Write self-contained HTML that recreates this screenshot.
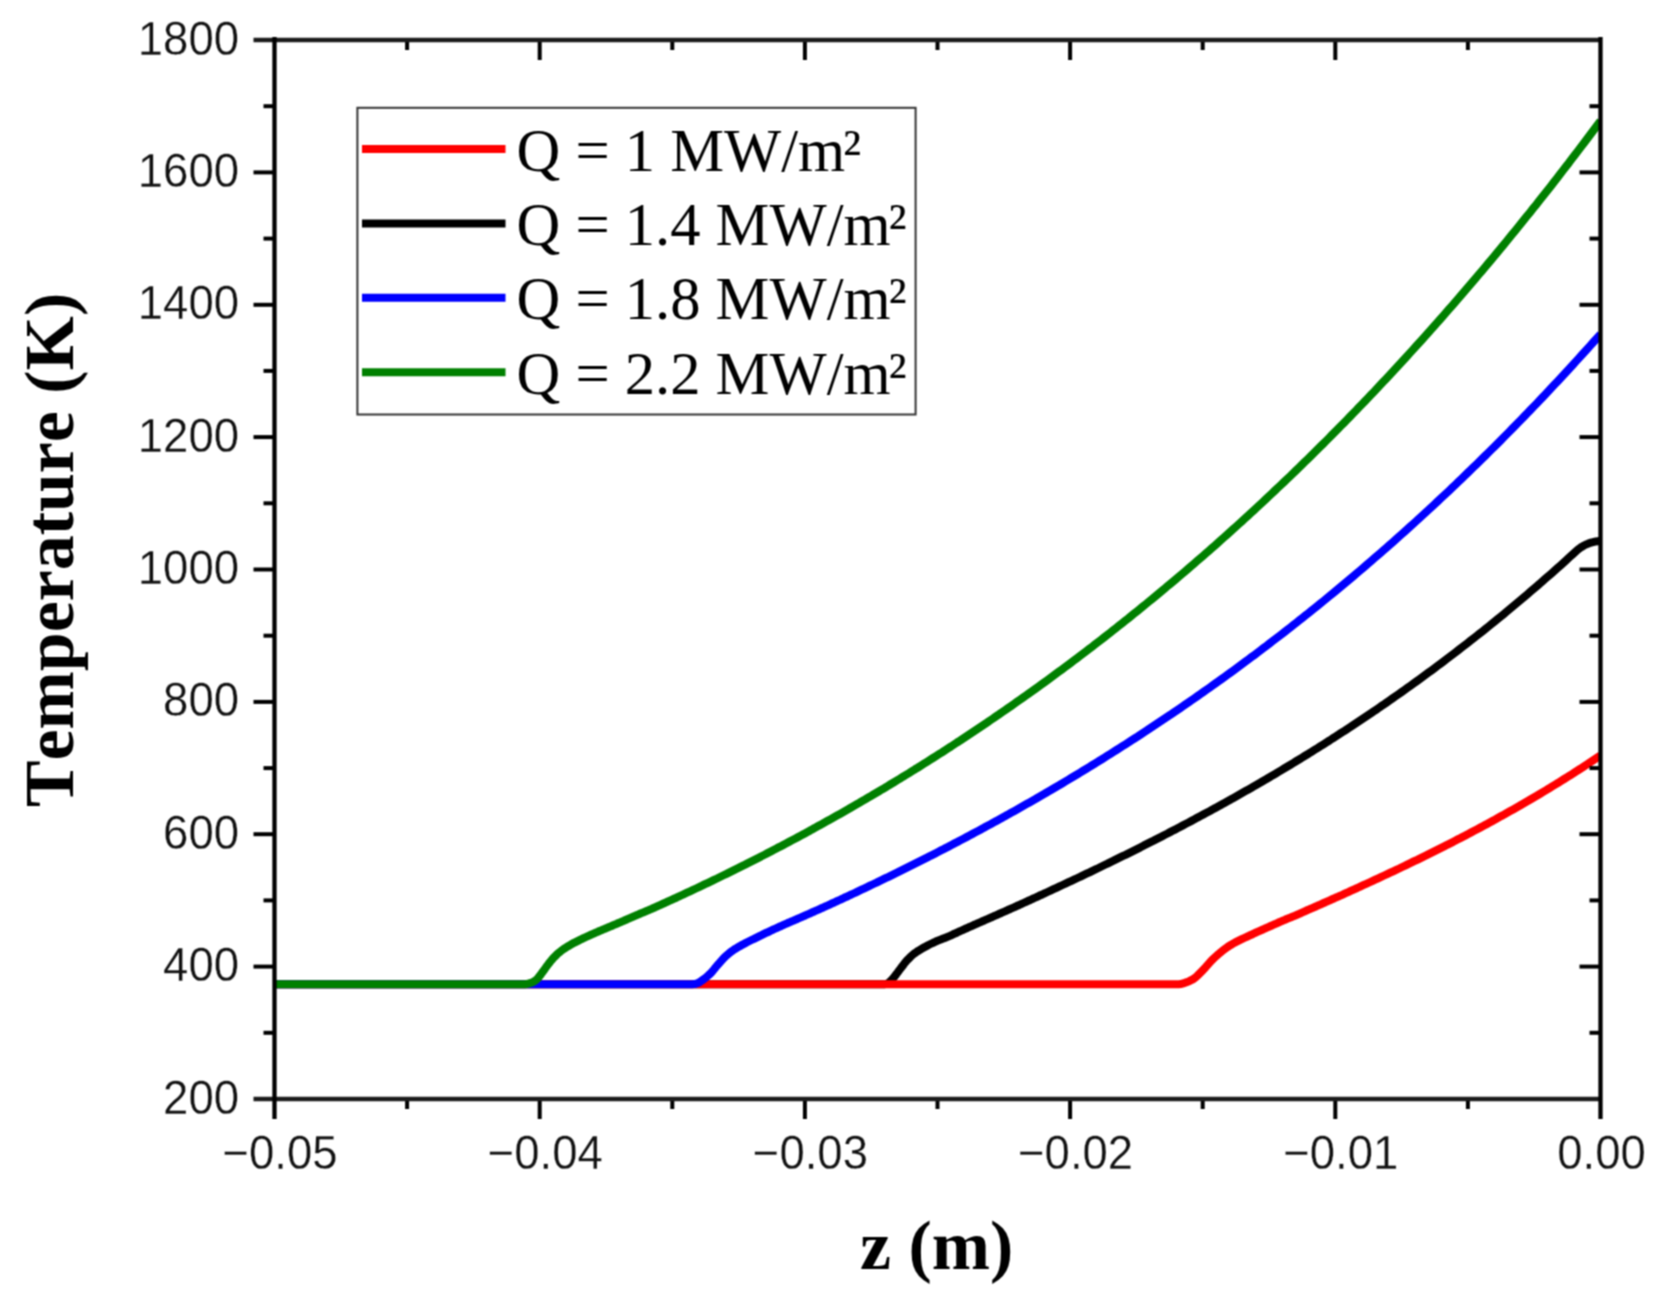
<!DOCTYPE html>
<html lang="en">
<head>
<meta charset="utf-8">
<title>Temperature vs z</title>
<style>
html,body{margin:0;padding:0;background:#fff;}
body{width:1661px;height:1304px;overflow:hidden;}
svg{display:block;}
.tick{font-family:"Liberation Sans",Arial,Helvetica,sans-serif;font-size:45.5px;fill:#111;stroke:#fff;stroke-width:0.3px;}
.leg{font-family:"Liberation Serif","Times New Roman",Times,serif;font-size:60.6px;fill:#000;}
.axl{font-family:"Liberation Serif","Times New Roman",Times,serif;font-size:69.9px;font-weight:bold;fill:#000;font-kerning:none;}
</style>
</head>
<body>
<svg width="1661" height="1304" viewBox="0 0 1661 1304">
<defs>
<filter id="soft" x="0" y="0" width="1661" height="1304" filterUnits="userSpaceOnUse" color-interpolation-filters="sRGB"><feConvolveMatrix order="3" kernelMatrix="1 2 1 2 4 2 1 2 1" divisor="16" edgeMode="duplicate" preserveAlpha="true"/></filter>
<clipPath id="plotclip"><rect x="274.5" y="40.0" width="1326.0" height="1059.0"/></clipPath>
</defs>
<g filter="url(#soft)">
<rect x="0" y="0" width="1661" height="1304" fill="#ffffff"/>
<g fill="none" stroke-width="8.0" stroke-linejoin="round" stroke-linecap="butt" clip-path="url(#plotclip)">
<polyline stroke="#000000" points="274.5,984.2 844.5,984.2 845.5,984.2 846.5,984.2 847.5,984.2 848.5,984.2 849.5,984.2 850.5,984.2 851.5,984.2 852.5,984.2 853.5,984.2 854.5,984.2 855.5,984.2 856.5,984.2 857.5,984.2 858.5,984.2 859.5,984.2 860.5,984.2 861.5,984.2 862.5,984.2 863.5,984.2 864.5,984.2 865.5,984.2 866.5,984.2 867.5,984.2 868.5,984.2 869.5,984.2 870.5,984.2 871.5,984.2 872.5,984.2 873.5,984.2 874.5,984.2 875.5,984.2 876.5,984.2 877.5,984.2 878.5,984.2 879.5,984.2 880.5,984.2 881.5,984.2 882.5,984.2 883.5,984.2 884.5,984.2 885.5,984.1 886.5,983.8 887.5,983.4 888.5,982.9 889.5,982.1 890.5,981.1 891.5,980.1 892.5,979.0 893.5,977.8 894.5,976.6 895.5,975.3 896.5,973.9 897.5,972.6 898.5,971.2 899.5,969.9 900.5,968.6 901.5,967.3 902.5,966.0 903.5,964.7 904.5,963.3 905.5,962.1 906.5,960.9 907.5,959.8 908.5,958.8 909.5,957.8 910.5,956.8 911.5,955.9 912.5,955.0 913.5,954.2 914.5,953.4 915.5,952.7 916.5,952.0 917.5,951.3 918.5,950.7 919.5,950.1 920.5,949.5 921.5,948.9 922.5,948.3 923.5,947.7 924.5,947.2 925.5,946.6 926.5,946.1 927.5,945.6 928.5,945.0 929.5,944.5 930.5,944.0 931.5,943.5 932.5,943.1 933.5,942.6 934.5,942.1 935.5,941.7 936.5,941.2 937.5,940.8 938.5,940.4 939.5,940.0 940.5,939.6 941.5,939.2 942.5,938.8 943.5,938.4 944.5,938.1 945.5,937.7 946.5,937.3 947.5,936.9 948.5,936.5 949.5,936.0 950.5,935.6 951.5,935.1 952.5,934.7 953.5,934.2 954.5,933.7 955.5,933.3 956.5,932.8 957.5,932.3 958.5,931.9 959.5,931.4 960.5,931.0 961.5,930.5 962.5,930.1 963.5,929.6 964.5,929.2 965.5,928.7 966.5,928.3 967.5,927.8 968.5,927.4 969.5,926.9 970.5,926.5 971.5,926.1 972.5,925.6 973.5,925.2 974.5,924.7 975.5,924.3 976.5,923.9 977.5,923.4 978.5,923.0 979.5,922.5 980.5,922.1 981.5,921.7 982.5,921.2 983.5,920.8 984.5,920.3 985.5,919.9 986.5,919.5 987.5,919.0 988.5,918.6 989.5,918.1 990.5,917.7 991.5,917.3 992.5,916.8 993.5,916.4 994.5,915.9 995.5,915.5 996.5,915.1 997.5,914.6 998.5,914.2 999.5,913.7 1000.5,913.3 1001.5,912.8 1002.5,912.4 1003.5,912.0 1004.5,911.5 1005.5,911.1 1006.5,910.6 1007.5,910.2 1008.5,909.7 1009.5,909.3 1010.5,908.8 1011.5,908.4 1012.5,908.0 1013.5,907.5 1014.5,907.1 1015.5,906.6 1016.5,906.2 1017.5,905.7 1018.5,905.3 1019.5,904.8 1020.5,904.4 1021.5,903.9 1022.5,903.5 1023.5,903.0 1024.5,902.5 1025.5,902.1 1026.5,901.6 1027.5,901.2 1028.5,900.7 1029.5,900.3 1030.5,899.8 1031.5,899.4 1032.5,898.9 1033.5,898.4 1034.5,898.0 1035.5,897.5 1036.5,897.1 1037.5,896.6 1038.5,896.2 1039.5,895.7 1040.5,895.2 1041.5,894.8 1042.5,894.3 1043.5,893.9 1044.5,893.4 1047.5,892.0 1050.5,890.6 1053.5,889.2 1056.5,887.8 1059.5,886.4 1062.5,885.0 1065.5,883.6 1068.5,882.2 1071.5,880.8 1074.5,879.4 1077.5,878.0 1080.5,876.6 1083.5,875.1 1086.5,873.7 1089.5,872.3 1092.5,870.8 1095.5,869.4 1098.5,868.0 1101.5,866.5 1104.5,865.0 1107.5,863.6 1110.5,862.1 1113.5,860.7 1116.5,859.2 1119.5,857.7 1122.5,856.2 1125.5,854.8 1128.5,853.3 1131.5,851.8 1134.5,850.3 1137.5,848.8 1140.5,847.3 1143.5,845.7 1146.5,844.2 1149.5,842.7 1152.5,841.2 1155.5,839.6 1158.5,838.1 1161.5,836.6 1164.5,835.0 1167.5,833.5 1170.5,831.9 1173.5,830.3 1176.5,828.8 1179.5,827.2 1182.5,825.6 1185.5,824.0 1188.5,822.5 1191.5,820.9 1194.5,819.3 1197.5,817.6 1200.5,816.0 1203.5,814.4 1206.5,812.8 1209.5,811.2 1212.5,809.5 1215.5,807.9 1218.5,806.2 1221.5,804.6 1224.5,802.9 1227.5,801.2 1230.5,799.6 1233.5,797.9 1236.5,796.2 1239.5,794.5 1242.5,792.8 1245.5,791.1 1248.5,789.4 1251.5,787.7 1254.5,785.9 1257.5,784.2 1260.5,782.5 1263.5,780.7 1266.5,779.0 1269.5,777.2 1272.5,775.4 1275.5,773.7 1278.5,771.9 1281.5,770.1 1284.5,768.3 1287.5,766.5 1290.5,764.7 1293.5,762.9 1296.5,761.0 1299.5,759.2 1302.5,757.4 1305.5,755.5 1308.5,753.7 1311.5,751.8 1314.5,749.9 1317.5,748.1 1320.5,746.2 1323.5,744.3 1326.5,742.4 1329.5,740.5 1332.5,738.5 1335.5,736.6 1338.5,734.7 1341.5,732.7 1344.5,730.8 1347.5,728.8 1350.5,726.9 1353.5,724.9 1356.5,722.9 1359.5,720.9 1362.5,718.9 1365.5,716.9 1368.5,714.9 1371.5,712.9 1374.5,710.8 1377.5,708.8 1380.5,706.7 1383.5,704.7 1386.5,702.6 1389.5,700.5 1392.5,698.4 1395.5,696.3 1398.5,694.2 1401.5,692.1 1404.5,690.0 1407.5,687.8 1410.5,685.7 1413.5,683.5 1416.5,681.4 1419.5,679.2 1422.5,677.0 1425.5,674.8 1428.5,672.6 1431.5,670.4 1434.5,668.2 1437.5,665.9 1440.5,663.7 1443.5,661.5 1446.5,659.2 1449.5,656.9 1452.5,654.6 1455.5,652.3 1458.5,650.0 1461.5,647.7 1464.5,645.4 1467.5,643.1 1470.5,640.7 1473.5,638.4 1476.5,636.0 1479.5,633.6 1482.5,631.3 1485.5,628.9 1488.5,626.5 1491.5,624.0 1494.5,621.6 1497.5,619.2 1500.5,616.7 1503.5,614.3 1506.5,611.8 1509.5,609.3 1512.5,606.8 1515.5,604.3 1518.5,601.8 1521.5,599.3 1524.5,596.7 1527.5,594.2 1530.5,591.6 1533.5,589.0 1536.5,586.4 1539.5,583.9 1542.5,581.2 1545.5,578.6 1548.5,576.0 1551.5,573.4 1554.5,570.7 1557.5,568.0 1560.5,565.4 1563.5,562.7 1566.5,560.0 1569.5,557.2 1572.5,554.5 1575.5,551.8 1577.0,550.4 1578.0,549.5 1579.0,548.8 1580.0,548.0 1581.0,547.3 1582.0,546.7 1583.0,546.1 1584.0,545.5 1585.0,545.0 1586.0,544.5 1587.0,544.1 1588.0,543.7 1589.0,543.3 1590.0,542.9 1591.0,542.6 1592.0,542.3 1593.0,542.1 1594.0,541.8 1595.0,541.6 1596.0,541.5 1597.0,541.3 1598.0,541.2 1599.0,541.1 1600.0,541.0 1600.5,541.0"/>
<polyline stroke="#ff0000" points="274.5,984.2 1139.2,984.2 1140.2,984.2 1141.2,984.2 1142.2,984.2 1143.2,984.2 1144.2,984.2 1145.2,984.2 1146.2,984.2 1147.2,984.2 1148.2,984.2 1149.2,984.2 1150.2,984.2 1151.2,984.2 1152.2,984.2 1153.2,984.2 1154.2,984.2 1155.2,984.2 1156.2,984.2 1157.2,984.2 1158.2,984.2 1159.2,984.2 1160.2,984.2 1161.2,984.2 1162.2,984.2 1163.2,984.2 1164.2,984.2 1165.2,984.2 1166.2,984.2 1167.2,984.2 1168.2,984.2 1169.2,984.2 1170.2,984.2 1171.2,984.2 1172.2,984.2 1173.2,984.2 1174.2,984.2 1175.2,984.2 1176.2,984.2 1177.2,984.2 1178.2,984.2 1179.2,984.2 1180.2,984.1 1181.2,984.0 1182.2,983.7 1183.2,983.4 1184.2,983.1 1185.2,982.7 1186.2,982.4 1187.2,982.0 1188.2,981.6 1189.2,981.2 1190.2,980.7 1191.2,980.2 1192.2,979.7 1193.2,979.1 1194.2,978.4 1195.2,977.6 1196.2,976.8 1197.2,975.9 1198.2,974.9 1199.2,973.9 1200.2,972.9 1201.2,971.9 1202.2,970.9 1203.2,969.9 1204.2,968.8 1205.2,967.7 1206.2,966.5 1207.2,965.4 1208.2,964.2 1209.2,963.1 1210.2,962.0 1211.2,960.9 1212.2,959.9 1213.2,958.9 1214.2,958.0 1215.2,957.0 1216.2,956.1 1217.2,955.2 1218.2,954.3 1219.2,953.5 1220.2,952.6 1221.2,951.8 1222.2,951.0 1223.2,950.2 1224.2,949.5 1225.2,948.7 1226.2,948.0 1227.2,947.3 1228.2,946.6 1229.2,945.9 1230.2,945.3 1231.2,944.7 1232.2,944.1 1233.2,943.5 1234.2,943.0 1235.2,942.4 1236.2,941.9 1237.2,941.4 1238.2,940.9 1239.2,940.4 1240.2,939.9 1241.2,939.4 1242.2,938.9 1243.2,938.5 1244.2,938.0 1245.2,937.5 1246.2,937.1 1247.2,936.6 1248.2,936.1 1249.2,935.7 1250.2,935.2 1251.2,934.8 1252.2,934.3 1253.2,933.8 1254.2,933.4 1255.2,932.9 1256.2,932.4 1257.2,932.0 1258.2,931.5 1259.2,931.1 1260.2,930.6 1261.2,930.2 1262.2,929.8 1263.2,929.3 1264.2,928.9 1265.2,928.4 1266.2,928.0 1267.2,927.5 1268.2,927.1 1269.2,926.7 1270.2,926.2 1271.2,925.8 1272.2,925.3 1273.2,924.9 1274.2,924.4 1275.2,924.0 1276.2,923.6 1277.2,923.1 1278.2,922.7 1279.2,922.2 1280.2,921.8 1281.2,921.4 1282.2,920.9 1283.2,920.5 1284.2,920.1 1285.2,919.7 1286.2,919.2 1287.2,918.8 1288.2,918.4 1289.2,918.0 1290.2,917.6 1291.2,917.2 1292.2,916.8 1293.2,916.4 1294.2,916.0 1295.2,915.6 1296.2,915.1 1297.2,914.7 1298.2,914.3 1299.2,913.9 1300.2,913.4 1301.2,913.0 1302.2,912.5 1303.2,912.0 1304.2,911.6 1305.2,911.1 1306.2,910.7 1307.2,910.2 1308.2,909.8 1309.2,909.4 1310.2,908.9 1311.2,908.5 1312.2,908.1 1313.2,907.6 1314.2,907.2 1315.2,906.8 1316.2,906.3 1317.2,905.9 1318.2,905.4 1319.2,905.0 1320.2,904.6 1321.2,904.1 1322.2,903.7 1323.2,903.2 1324.2,902.8 1325.2,902.3 1326.2,901.9 1327.2,901.5 1328.2,901.0 1329.2,900.6 1330.2,900.1 1331.2,899.7 1332.2,899.2 1333.2,898.8 1334.2,898.3 1335.2,897.9 1336.2,897.4 1337.2,897.0 1338.2,896.6 1339.2,896.1 1342.2,894.8 1345.2,893.4 1348.2,892.1 1351.2,890.7 1354.2,889.3 1357.2,888.0 1360.2,886.6 1363.2,885.2 1366.2,883.9 1369.2,882.5 1372.2,881.1 1375.2,879.7 1378.2,878.3 1381.2,876.9 1384.2,875.5 1387.2,874.1 1390.2,872.7 1393.2,871.3 1396.2,869.9 1399.2,868.5 1402.2,867.0 1405.2,865.6 1408.2,864.1 1411.2,862.7 1414.2,861.2 1417.2,859.8 1420.2,858.3 1423.2,856.8 1426.2,855.4 1429.2,853.9 1432.2,852.4 1435.2,850.9 1438.2,849.4 1441.2,847.9 1444.2,846.4 1447.2,844.8 1450.2,843.3 1453.2,841.8 1456.2,840.2 1459.2,838.7 1462.2,837.1 1465.2,835.6 1468.2,834.0 1471.2,832.4 1474.2,830.8 1477.2,829.2 1480.2,827.6 1483.2,826.0 1486.2,824.4 1489.2,822.7 1492.2,821.1 1495.2,819.5 1498.2,817.8 1501.2,816.1 1504.2,814.5 1507.2,812.8 1510.2,811.1 1513.2,809.4 1516.2,807.7 1519.2,806.0 1522.2,804.2 1525.2,802.5 1528.2,800.8 1531.2,799.0 1534.2,797.2 1537.2,795.5 1540.2,793.7 1543.2,791.9 1546.2,790.1 1549.2,788.3 1552.2,786.4 1555.2,784.6 1558.2,782.8 1561.2,780.9 1564.2,779.0 1567.2,777.1 1570.2,775.3 1573.2,773.4 1576.2,771.4 1579.2,769.5 1582.2,767.6 1585.2,765.6 1588.2,763.7 1591.2,761.7 1594.2,759.7 1597.2,757.7 1600.2,755.7 1600.5,755.5"/>
<polyline stroke="#0000ff" points="274.5,984.2 652.5,984.2 653.5,984.2 654.5,984.2 655.5,984.2 656.5,984.2 657.5,984.2 658.5,984.2 659.5,984.2 660.5,984.2 661.5,984.2 662.5,984.2 663.5,984.2 664.5,984.2 665.5,984.2 666.5,984.2 667.5,984.2 668.5,984.2 669.5,984.2 670.5,984.2 671.5,984.2 672.5,984.2 673.5,984.2 674.5,984.2 675.5,984.2 676.5,984.2 677.5,984.2 678.5,984.2 679.5,984.2 680.5,984.2 681.5,984.2 682.5,984.2 683.5,984.2 684.5,984.2 685.5,984.2 686.5,984.2 687.5,984.2 688.5,984.2 689.5,984.2 690.5,984.2 691.5,984.2 692.5,984.2 693.5,984.1 694.5,984.0 695.5,983.8 696.5,983.5 697.5,983.2 698.5,982.8 699.5,982.2 700.5,981.5 701.5,980.8 702.5,980.1 703.5,979.4 704.5,978.6 705.5,977.8 706.5,977.0 707.5,976.1 708.5,975.2 709.5,974.3 710.5,973.3 711.5,972.3 712.5,971.2 713.5,970.0 714.5,968.8 715.5,967.5 716.5,966.3 717.5,965.1 718.5,964.0 719.5,962.9 720.5,961.7 721.5,960.6 722.5,959.5 723.5,958.4 724.5,957.4 725.5,956.4 726.5,955.5 727.5,954.6 728.5,953.8 729.5,952.9 730.5,952.2 731.5,951.4 732.5,950.7 733.5,950.0 734.5,949.3 735.5,948.7 736.5,948.1 737.5,947.5 738.5,946.9 739.5,946.3 740.5,945.8 741.5,945.2 742.5,944.7 743.5,944.1 744.5,943.6 745.5,943.1 746.5,942.5 747.5,942.0 748.5,941.5 749.5,941.0 750.5,940.5 751.5,940.0 752.5,939.5 753.5,939.1 754.5,938.6 755.5,938.1 756.5,937.6 757.5,937.1 758.5,936.6 759.5,936.1 760.5,935.6 761.5,935.2 762.5,934.7 763.5,934.2 764.5,933.7 765.5,933.2 766.5,932.7 767.5,932.3 768.5,931.8 769.5,931.3 770.5,930.8 771.5,930.4 772.5,929.9 773.5,929.4 774.5,929.0 775.5,928.5 776.5,928.1 777.5,927.6 778.5,927.2 779.5,926.7 780.5,926.3 781.5,925.8 782.5,925.4 783.5,924.9 784.5,924.5 785.5,924.0 786.5,923.6 787.5,923.2 788.5,922.7 789.5,922.3 790.5,921.9 791.5,921.4 792.5,921.0 793.5,920.6 794.5,920.1 795.5,919.7 796.5,919.3 797.5,918.8 798.5,918.4 799.5,918.0 800.5,917.5 801.5,917.1 802.5,916.6 803.5,916.2 804.5,915.8 805.5,915.3 806.5,914.9 807.5,914.5 808.5,914.0 809.5,913.6 810.5,913.1 811.5,912.7 812.5,912.2 813.5,911.8 814.5,911.3 815.5,910.9 816.5,910.5 817.5,910.0 818.5,909.6 819.5,909.1 820.5,908.7 821.5,908.2 822.5,907.8 823.5,907.3 824.5,906.9 825.5,906.4 826.5,906.0 827.5,905.5 828.5,905.1 829.5,904.6 830.5,904.2 831.5,903.7 832.5,903.2 833.5,902.8 834.5,902.3 835.5,901.9 836.5,901.4 837.5,900.9 838.5,900.5 839.5,900.0 840.5,899.6 841.5,899.1 842.5,898.6 843.5,898.2 844.5,897.7 845.5,897.2 846.5,896.8 847.5,896.3 848.5,895.8 849.5,895.4 850.5,894.9 851.5,894.4 852.5,894.0 855.5,892.6 858.5,891.1 861.5,889.7 864.5,888.3 867.5,886.9 870.5,885.4 873.5,884.0 876.5,882.6 879.5,881.1 882.5,879.7 885.5,878.2 888.5,876.8 891.5,875.3 894.5,873.8 897.5,872.4 900.5,870.9 903.5,869.4 906.5,867.9 909.5,866.4 912.5,864.9 915.5,863.4 918.5,861.9 921.5,860.4 924.5,858.9 927.5,857.4 930.5,855.8 933.5,854.3 936.5,852.8 939.5,851.2 942.5,849.7 945.5,848.1 948.5,846.6 951.5,845.0 954.5,843.4 957.5,841.9 960.5,840.3 963.5,838.7 966.5,837.1 969.5,835.5 972.5,833.9 975.5,832.3 978.5,830.7 981.5,829.1 984.5,827.4 987.5,825.8 990.5,824.2 993.5,822.5 996.5,820.9 999.5,819.2 1002.5,817.6 1005.5,815.9 1008.5,814.3 1011.5,812.6 1014.5,810.9 1017.5,809.2 1020.5,807.5 1023.5,805.8 1026.5,804.1 1029.5,802.4 1032.5,800.7 1035.5,799.0 1038.5,797.2 1041.5,795.5 1044.5,793.8 1047.5,792.0 1050.5,790.3 1053.5,788.5 1056.5,786.7 1059.5,785.0 1062.5,783.2 1065.5,781.4 1068.5,779.6 1071.5,777.8 1074.5,776.0 1077.5,774.2 1080.5,772.4 1083.5,770.5 1086.5,768.7 1089.5,766.9 1092.5,765.0 1095.5,763.2 1098.5,761.3 1101.5,759.5 1104.5,757.6 1107.5,755.7 1110.5,753.8 1113.5,751.9 1116.5,750.0 1119.5,748.1 1122.5,746.2 1125.5,744.3 1128.5,742.4 1131.5,740.4 1134.5,738.5 1137.5,736.6 1140.5,734.6 1143.5,732.6 1146.5,730.7 1149.5,728.7 1152.5,726.7 1155.5,724.7 1158.5,722.7 1161.5,720.7 1164.5,718.7 1167.5,716.7 1170.5,714.7 1173.5,712.6 1176.5,710.6 1179.5,708.6 1182.5,706.5 1185.5,704.4 1188.5,702.4 1191.5,700.3 1194.5,698.2 1197.5,696.1 1200.5,694.0 1203.5,691.9 1206.5,689.8 1209.5,687.7 1212.5,685.5 1215.5,683.4 1218.5,681.2 1221.5,679.1 1224.5,676.9 1227.5,674.7 1230.5,672.6 1233.5,670.4 1236.5,668.2 1239.5,666.0 1242.5,663.8 1245.5,661.6 1248.5,659.3 1251.5,657.1 1254.5,654.9 1257.5,652.6 1260.5,650.3 1263.5,648.1 1266.5,645.8 1269.5,643.5 1272.5,641.2 1275.5,638.9 1278.5,636.6 1281.5,634.3 1284.5,632.0 1287.5,629.6 1290.5,627.3 1293.5,624.9 1296.5,622.6 1299.5,620.2 1302.5,617.8 1305.5,615.4 1308.5,613.1 1311.5,610.7 1314.5,608.2 1317.5,605.8 1320.5,603.4 1323.5,601.0 1326.5,598.5 1329.5,596.0 1332.5,593.6 1335.5,591.1 1338.5,588.6 1341.5,586.1 1344.5,583.6 1347.5,581.1 1350.5,578.6 1353.5,576.1 1356.5,573.5 1359.5,571.0 1362.5,568.4 1365.5,565.9 1368.5,563.3 1371.5,560.7 1374.5,558.1 1377.5,555.5 1380.5,552.9 1383.5,550.3 1386.5,547.7 1389.5,545.0 1392.5,542.4 1395.5,539.7 1398.5,537.1 1401.5,534.4 1404.5,531.7 1407.5,529.0 1410.5,526.3 1413.5,523.6 1416.5,520.9 1419.5,518.1 1422.5,515.4 1425.5,512.6 1428.5,509.9 1431.5,507.1 1434.5,504.3 1437.5,501.5 1440.5,498.7 1443.5,495.9 1446.5,493.1 1449.5,490.3 1452.5,487.4 1455.5,484.6 1458.5,481.7 1461.5,478.8 1464.5,475.9 1467.5,473.0 1470.5,470.1 1473.5,467.2 1476.5,464.3 1479.5,461.4 1482.5,458.4 1485.5,455.5 1488.5,452.5 1491.5,449.5 1494.5,446.6 1497.5,443.6 1500.5,440.6 1503.5,437.5 1506.5,434.5 1509.5,431.5 1512.5,428.4 1515.5,425.4 1518.5,422.3 1521.5,419.2 1524.5,416.1 1527.5,413.0 1530.5,409.9 1533.5,406.8 1536.5,403.7 1539.5,400.5 1542.5,397.4 1545.5,394.2 1548.5,391.0 1551.5,387.8 1554.5,384.6 1557.5,381.4 1560.5,378.2 1563.5,375.0 1566.5,371.7 1569.5,368.5 1572.5,365.2 1575.5,361.9 1578.5,358.6 1581.5,355.3 1584.5,352.0 1587.5,348.7 1590.5,345.4 1593.5,342.0 1596.5,338.7 1599.5,335.3 1600.5,334.2"/>
<polyline stroke="#008000" points="274.5,984.2 484.0,984.2 485.0,984.2 486.0,984.2 487.0,984.2 488.0,984.2 489.0,984.2 490.0,984.2 491.0,984.2 492.0,984.2 493.0,984.2 494.0,984.2 495.0,984.2 496.0,984.2 497.0,984.2 498.0,984.2 499.0,984.2 500.0,984.2 501.0,984.2 502.0,984.2 503.0,984.2 504.0,984.2 505.0,984.2 506.0,984.2 507.0,984.2 508.0,984.2 509.0,984.2 510.0,984.2 511.0,984.2 512.0,984.2 513.0,984.2 514.0,984.2 515.0,984.2 516.0,984.2 517.0,984.2 518.0,984.2 519.0,984.2 520.0,984.2 521.0,984.2 522.0,984.2 523.0,984.2 524.0,984.2 525.0,984.2 526.0,984.1 527.0,983.9 528.0,983.7 529.0,983.5 530.0,983.2 531.0,982.9 532.0,982.5 533.0,982.0 534.0,981.4 535.0,980.7 536.0,980.0 537.0,979.1 538.0,978.1 539.0,976.8 540.0,975.5 541.0,974.2 542.0,972.8 543.0,971.5 544.0,970.1 545.0,968.7 546.0,967.3 547.0,965.9 548.0,964.6 549.0,963.3 550.0,962.0 551.0,960.8 552.0,959.6 553.0,958.4 554.0,957.3 555.0,956.3 556.0,955.3 557.0,954.3 558.0,953.4 559.0,952.6 560.0,951.8 561.0,951.0 562.0,950.2 563.0,949.5 564.0,948.8 565.0,948.2 566.0,947.5 567.0,946.9 568.0,946.3 569.0,945.7 570.0,945.1 571.0,944.5 572.0,943.9 573.0,943.4 574.0,942.8 575.0,942.3 576.0,941.8 577.0,941.3 578.0,940.8 579.0,940.3 580.0,939.8 581.0,939.4 582.0,938.9 583.0,938.4 584.0,937.9 585.0,937.5 586.0,937.0 587.0,936.5 588.0,936.1 589.0,935.6 590.0,935.2 591.0,934.7 592.0,934.3 593.0,933.9 594.0,933.4 595.0,933.0 596.0,932.5 597.0,932.1 598.0,931.7 599.0,931.2 600.0,930.8 601.0,930.4 602.0,930.0 603.0,929.5 604.0,929.1 605.0,928.7 606.0,928.3 607.0,927.9 608.0,927.4 609.0,927.0 610.0,926.6 611.0,926.2 612.0,925.8 613.0,925.3 614.0,924.9 615.0,924.5 616.0,924.1 617.0,923.7 618.0,923.2 619.0,922.8 620.0,922.4 621.0,922.0 622.0,921.5 623.0,921.1 624.0,920.7 625.0,920.2 626.0,919.8 627.0,919.3 628.0,918.9 629.0,918.5 630.0,918.0 631.0,917.6 632.0,917.1 633.0,916.7 634.0,916.3 635.0,915.9 636.0,915.4 637.0,915.0 638.0,914.6 639.0,914.2 640.0,913.7 641.0,913.3 642.0,912.9 643.0,912.5 644.0,912.1 645.0,911.6 646.0,911.2 647.0,910.8 648.0,910.4 649.0,910.0 650.0,909.5 651.0,909.1 652.0,908.7 653.0,908.2 654.0,907.8 655.0,907.3 656.0,906.9 657.0,906.4 658.0,906.0 659.0,905.5 660.0,905.1 661.0,904.6 662.0,904.2 663.0,903.7 664.0,903.3 665.0,902.8 666.0,902.4 667.0,901.9 668.0,901.4 669.0,901.0 670.0,900.5 671.0,900.1 672.0,899.6 673.0,899.2 674.0,898.7 675.0,898.3 676.0,897.8 677.0,897.3 678.0,896.9 679.0,896.4 680.0,896.0 681.0,895.5 682.0,895.0 683.0,894.6 684.0,894.1 687.0,892.7 690.0,891.3 693.0,889.9 696.0,888.5 699.0,887.1 702.0,885.7 705.0,884.2 708.0,882.8 711.0,881.4 714.0,879.9 717.0,878.5 720.0,877.0 723.0,875.5 726.0,874.1 729.0,872.6 732.0,871.1 735.0,869.6 738.0,868.2 741.0,866.7 744.0,865.2 747.0,863.6 750.0,862.1 753.0,860.6 756.0,859.1 759.0,857.6 762.0,856.0 765.0,854.5 768.0,852.9 771.0,851.4 774.0,849.8 777.0,848.2 780.0,846.7 783.0,845.1 786.0,843.5 789.0,841.9 792.0,840.3 795.0,838.7 798.0,837.1 801.0,835.5 804.0,833.9 807.0,832.2 810.0,830.6 813.0,828.9 816.0,827.3 819.0,825.6 822.0,824.0 825.0,822.3 828.0,820.6 831.0,819.0 834.0,817.3 837.0,815.6 840.0,813.9 843.0,812.2 846.0,810.5 849.0,808.8 852.0,807.0 855.0,805.3 858.0,803.6 861.0,801.8 864.0,800.1 867.0,798.3 870.0,796.6 873.0,794.8 876.0,793.0 879.0,791.2 882.0,789.4 885.0,787.7 888.0,785.9 891.0,784.0 894.0,782.2 897.0,780.4 900.0,778.6 903.0,776.7 906.0,774.9 909.0,773.1 912.0,771.2 915.0,769.3 918.0,767.5 921.0,765.6 924.0,763.7 927.0,761.8 930.0,759.9 933.0,758.0 936.0,756.1 939.0,754.2 942.0,752.3 945.0,750.3 948.0,748.4 951.0,746.5 954.0,744.5 957.0,742.5 960.0,740.6 963.0,738.6 966.0,736.6 969.0,734.6 972.0,732.6 975.0,730.6 978.0,728.6 981.0,726.6 984.0,724.6 987.0,722.6 990.0,720.5 993.0,718.5 996.0,716.4 999.0,714.4 1002.0,712.3 1005.0,710.2 1008.0,708.1 1011.0,706.1 1014.0,704.0 1017.0,701.8 1020.0,699.7 1023.0,697.6 1026.0,695.5 1029.0,693.4 1032.0,691.2 1035.0,689.1 1038.0,686.9 1041.0,684.7 1044.0,682.6 1047.0,680.4 1050.0,678.2 1053.0,676.0 1056.0,673.8 1059.0,671.6 1062.0,669.4 1065.0,667.1 1068.0,664.9 1071.0,662.7 1074.0,660.4 1077.0,658.2 1080.0,655.9 1083.0,653.6 1086.0,651.3 1089.0,649.1 1092.0,646.8 1095.0,644.4 1098.0,642.1 1101.0,639.8 1104.0,637.5 1107.0,635.1 1110.0,632.8 1113.0,630.4 1116.0,628.1 1119.0,625.7 1122.0,623.3 1125.0,620.9 1128.0,618.6 1131.0,616.1 1134.0,613.7 1137.0,611.3 1140.0,608.9 1143.0,606.4 1146.0,604.0 1149.0,601.5 1152.0,599.1 1155.0,596.6 1158.0,594.1 1161.0,591.6 1164.0,589.2 1167.0,586.6 1170.0,584.1 1173.0,581.6 1176.0,579.1 1179.0,576.5 1182.0,574.0 1185.0,571.4 1188.0,568.9 1191.0,566.3 1194.0,563.7 1197.0,561.1 1200.0,558.5 1203.0,555.9 1206.0,553.3 1209.0,550.7 1212.0,548.0 1215.0,545.4 1218.0,542.7 1221.0,540.1 1224.0,537.4 1227.0,534.7 1230.0,532.0 1233.0,529.3 1236.0,526.6 1239.0,523.9 1242.0,521.2 1245.0,518.4 1248.0,515.7 1251.0,512.9 1254.0,510.2 1257.0,507.4 1260.0,504.6 1263.0,501.8 1266.0,499.0 1269.0,496.2 1272.0,493.4 1275.0,490.5 1278.0,487.7 1281.0,484.9 1284.0,482.0 1287.0,479.1 1290.0,476.3 1293.0,473.4 1296.0,470.5 1299.0,467.6 1302.0,464.6 1305.0,461.7 1308.0,458.8 1311.0,455.8 1314.0,452.9 1317.0,449.9 1320.0,446.9 1323.0,444.0 1326.0,441.0 1329.0,438.0 1332.0,434.9 1335.0,431.9 1338.0,428.9 1341.0,425.8 1344.0,422.8 1347.0,419.7 1350.0,416.6 1353.0,413.5 1356.0,410.5 1359.0,407.3 1362.0,404.2 1365.0,401.1 1368.0,398.0 1371.0,394.8 1374.0,391.7 1377.0,388.5 1380.0,385.3 1383.0,382.1 1386.0,378.9 1389.0,375.7 1392.0,372.5 1395.0,369.3 1398.0,366.0 1401.0,362.8 1404.0,359.5 1407.0,356.2 1410.0,352.9 1413.0,349.6 1416.0,346.3 1419.0,343.0 1422.0,339.7 1425.0,336.3 1428.0,333.0 1431.0,329.6 1434.0,326.3 1437.0,322.9 1440.0,319.5 1443.0,316.1 1446.0,312.7 1449.0,309.2 1452.0,305.8 1455.0,302.3 1458.0,298.9 1461.0,295.4 1464.0,291.9 1467.0,288.4 1470.0,284.9 1473.0,281.4 1476.0,277.9 1479.0,274.3 1482.0,270.8 1485.0,267.2 1488.0,263.6 1491.0,260.1 1494.0,256.5 1497.0,252.9 1500.0,249.2 1503.0,245.6 1506.0,242.0 1509.0,238.3 1512.0,234.6 1515.0,230.9 1518.0,227.3 1521.0,223.6 1524.0,219.8 1527.0,216.1 1530.0,212.4 1533.0,208.6 1536.0,204.9 1539.0,201.1 1542.0,197.3 1545.0,193.5 1548.0,189.7 1551.0,185.9 1554.0,182.0 1557.0,178.2 1560.0,174.3 1563.0,170.4 1566.0,166.5 1569.0,162.7 1572.0,158.7 1575.0,154.8 1578.0,150.9 1581.0,146.9 1584.0,143.0 1587.0,139.0 1590.0,135.0 1593.0,131.0 1596.0,127.0 1599.0,123.0 1600.5,121.0"/>
</g>
<g stroke="#000" stroke-width="4.0" fill="none">
<line x1="263.5" y1="1032.8" x2="274.5" y2="1032.8"/><line x1="1589.5" y1="1032.8" x2="1600.5" y2="1032.8"/>
<line x1="253.5" y1="966.6" x2="274.5" y2="966.6"/><line x1="1579.5" y1="966.6" x2="1600.5" y2="966.6"/>
<line x1="263.5" y1="900.4" x2="274.5" y2="900.4"/><line x1="1589.5" y1="900.4" x2="1600.5" y2="900.4"/>
<line x1="253.5" y1="834.2" x2="274.5" y2="834.2"/><line x1="1579.5" y1="834.2" x2="1600.5" y2="834.2"/>
<line x1="263.5" y1="768.1" x2="274.5" y2="768.1"/><line x1="1589.5" y1="768.1" x2="1600.5" y2="768.1"/>
<line x1="253.5" y1="701.9" x2="274.5" y2="701.9"/><line x1="1579.5" y1="701.9" x2="1600.5" y2="701.9"/>
<line x1="263.5" y1="635.7" x2="274.5" y2="635.7"/><line x1="1589.5" y1="635.7" x2="1600.5" y2="635.7"/>
<line x1="253.5" y1="569.5" x2="274.5" y2="569.5"/><line x1="1579.5" y1="569.5" x2="1600.5" y2="569.5"/>
<line x1="263.5" y1="503.3" x2="274.5" y2="503.3"/><line x1="1589.5" y1="503.3" x2="1600.5" y2="503.3"/>
<line x1="253.5" y1="437.1" x2="274.5" y2="437.1"/><line x1="1579.5" y1="437.1" x2="1600.5" y2="437.1"/>
<line x1="263.5" y1="370.9" x2="274.5" y2="370.9"/><line x1="1589.5" y1="370.9" x2="1600.5" y2="370.9"/>
<line x1="253.5" y1="304.8" x2="274.5" y2="304.8"/><line x1="1579.5" y1="304.8" x2="1600.5" y2="304.8"/>
<line x1="263.5" y1="238.6" x2="274.5" y2="238.6"/><line x1="1589.5" y1="238.6" x2="1600.5" y2="238.6"/>
<line x1="253.5" y1="172.4" x2="274.5" y2="172.4"/><line x1="1579.5" y1="172.4" x2="1600.5" y2="172.4"/>
<line x1="263.5" y1="106.2" x2="274.5" y2="106.2"/><line x1="1589.5" y1="106.2" x2="1600.5" y2="106.2"/>
<line x1="407.1" y1="1099.0" x2="407.1" y2="1109.0"/><line x1="407.1" y1="40.0" x2="407.1" y2="50.0"/>
<line x1="539.7" y1="1099.0" x2="539.7" y2="1119.0"/><line x1="539.7" y1="40.0" x2="539.7" y2="60.0"/>
<line x1="672.3" y1="1099.0" x2="672.3" y2="1109.0"/><line x1="672.3" y1="40.0" x2="672.3" y2="50.0"/>
<line x1="804.9" y1="1099.0" x2="804.9" y2="1119.0"/><line x1="804.9" y1="40.0" x2="804.9" y2="60.0"/>
<line x1="937.5" y1="1099.0" x2="937.5" y2="1109.0"/><line x1="937.5" y1="40.0" x2="937.5" y2="50.0"/>
<line x1="1070.1" y1="1099.0" x2="1070.1" y2="1119.0"/><line x1="1070.1" y1="40.0" x2="1070.1" y2="60.0"/>
<line x1="1202.7" y1="1099.0" x2="1202.7" y2="1109.0"/><line x1="1202.7" y1="40.0" x2="1202.7" y2="50.0"/>
<line x1="1335.3" y1="1099.0" x2="1335.3" y2="1119.0"/><line x1="1335.3" y1="40.0" x2="1335.3" y2="60.0"/>
<line x1="1467.9" y1="1099.0" x2="1467.9" y2="1109.0"/><line x1="1467.9" y1="40.0" x2="1467.9" y2="50.0"/>
</g>
<g stroke-width="4.3" fill="none">
<line x1="253.5" y1="40.0" x2="1600.5" y2="40.0" stroke="#1c1c1c"/>
<line x1="253.5" y1="1099.0" x2="1600.5" y2="1099.0" stroke="#1c1c1c"/>
<line x1="274.5" y1="37.0" x2="274.5" y2="1119.0" stroke="#000"/>
<line x1="1600.5" y1="37.0" x2="1600.5" y2="1119.0" stroke="#000"/>
</g>
<g class="tick" text-anchor="end">
<text transform="translate(239,1113.5) scale(1,1.05)">200</text>
<text transform="translate(239,981.1) scale(1,1.05)">400</text>
<text transform="translate(239,848.8) scale(1,1.05)">600</text>
<text transform="translate(239,716.4) scale(1,1.05)">800</text>
<text transform="translate(239,584.0) scale(1,1.05)">1000</text>
<text transform="translate(239,451.6) scale(1,1.05)">1200</text>
<text transform="translate(239,319.2) scale(1,1.05)">1400</text>
<text transform="translate(239,186.9) scale(1,1.05)">1600</text>
<text transform="translate(239,54.5) scale(1,1.05)">1800</text>
</g>
<g class="tick" text-anchor="middle">
<text transform="translate(280.0,1169.3) scale(1,1.05)">−0.05</text>
<text transform="translate(545.2,1169.3) scale(1,1.05)">−0.04</text>
<text transform="translate(810.4,1169.3) scale(1,1.05)">−0.03</text>
<text transform="translate(1075.6,1169.3) scale(1,1.05)">−0.02</text>
<text transform="translate(1340.8,1169.3) scale(1,1.05)">−0.01</text>
<text transform="translate(1601.5,1169.3) scale(1,1.05)">0.00</text>
</g>
<text class="axl" text-anchor="middle" x="936.7" y="1269">z (m)</text>
<text class="axl" text-anchor="middle" transform="translate(73.4,549.9) rotate(-90)">Temperature (K)</text>
<rect x="357.4" y="107.8" width="558.2" height="306.7" fill="#ffffff" stroke="#333333" stroke-width="2"/>
<line x1="362" y1="149.0" x2="505.5" y2="149.0" stroke="#ff0000" stroke-width="8.0"/>
<text class="leg" x="516.5" y="170.5">Q = 1 MW/m<tspan dx="-2.2">²</tspan></text>
<line x1="362" y1="223.4" x2="505.5" y2="223.4" stroke="#000000" stroke-width="8.0"/>
<text class="leg" x="516.5" y="244.9">Q = 1.4 MW/m<tspan dx="-2.2">²</tspan></text>
<line x1="362" y1="297.8" x2="505.5" y2="297.8" stroke="#0000ff" stroke-width="8.0"/>
<text class="leg" x="516.5" y="319.3">Q = 1.8 MW/m<tspan dx="-2.2">²</tspan></text>
<line x1="362" y1="372.2" x2="505.5" y2="372.2" stroke="#008000" stroke-width="8.0"/>
<text class="leg" x="516.5" y="393.7">Q = 2.2 MW/m<tspan dx="-2.2">²</tspan></text>
</g>
</svg>
</body>
</html>
